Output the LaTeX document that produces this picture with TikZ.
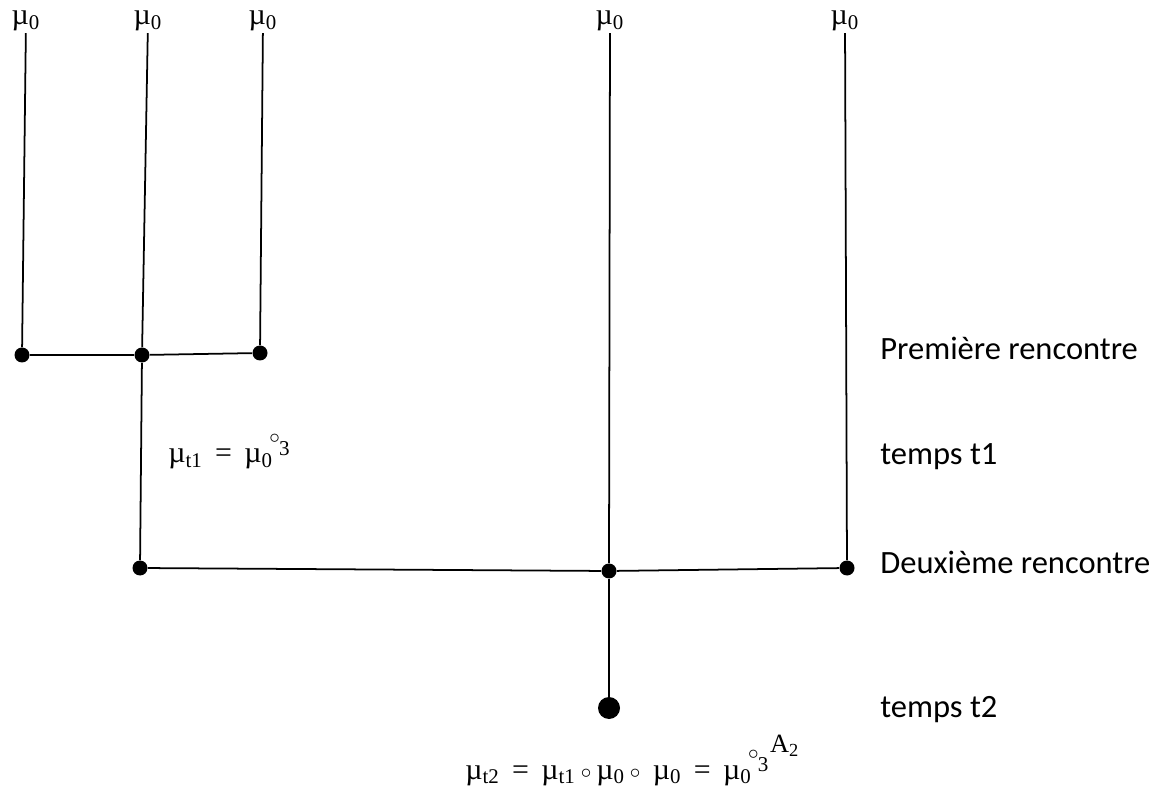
\documentclass[tikz,border=0pt]{standalone}
\usepackage{fontspec}
\usepackage{graphicx}
\setmainfont{Carlito}
\newfontfamily\tnr{Liberation Serif}
\newcommand{\muz}{µ\textsubscript{0}}
\newcommand{\mut}[1]{µ\textsubscript{t#1}}
\newcommand{\smallo}{\raisebox{0.5pt}{$\scriptstyle\circ$}}
\newcommand{\powo}{\kern-2pt\raisebox{11pt}{$\scriptstyle\circ$}\kern-0.5pt\raisebox{4.5pt}{\fontsize{12}{12}\selectfont 3}}

\begin{document}
\begin{tikzpicture}[
  dot/.style={circle, fill=black, minimum size=0.3cm, inner sep=0},
  bigdot/.style={circle, fill=black, minimum size=0.44cm, inner sep=0},
  lbl/.style={font=\tnr\fontsize{17}{19}\selectfont, inner sep=1pt},
  tag/.style={font=\fontsize{18.5}{21}\selectfont, anchor=base west, inner sep=0},
  edge/.style={line width=1pt}
]
\useasboundingbox (0,0) rectangle (23.12,-15.8);

%% ── Top labels ───────────────────────────────────────────────────────────────
\node[lbl] (m1) at (0.52,-0.42)  {\muz};
\node[lbl] (m2) at (2.96,-0.42)  {\muz};
\node[lbl] (m3) at (5.26,-0.42)  {\muz};
\node[lbl] (m4) at (12.2,-0.42)  {\muz};
\node[lbl] (m5) at (16.9,-0.42)  {\muz};

%% ── Meeting points ───────────────────────────────────────────────────────────
\node[dot]    (a1) at (0.44,-7.1)    {};
\node[dot]    (a2) at (2.84,-7.1)    {};
\node[dot]    (a3) at (5.2,-7.06)    {};
\node[dot]    (b1) at (2.8,-11.36)   {};
\node[dot]    (b2) at (12.18,-11.42) {};
\node[dot]    (b3) at (16.94,-11.36) {};
\node[bigdot] (c)  at (12.18,-14.16) {};

%% ── Formulas ─────────────────────────────────────────────────────────────────
\node[lbl, anchor=base west, inner sep=0] (f1) at (3.36,-9.26)
  {\mut{1} \,=\, \muz\powo};
\node[lbl, anchor=base west, inner sep=0] (f2) at (9.3,-15.58)
  {\mut{2} \,=\, \mut{1}\,\smallo\,\muz\,\smallo\ \,\muz{} \,=\, \muz\powo\kern1pt\raisebox{15pt}{\fontsize{15}{15}\selectfont A\textsubscript{2}}};

%% ── Right-hand tags ──────────────────────────────────────────────────────────
\node[tag] (p1) at (17.6,-7.2)   {Première rencontre};
\node[tag] (p2) at (17.6,-9.3)   {temps t1};
\node[tag] (p3) at (17.6,-11.46) {Deuxième rencontre};
\node[tag] (p4) at (17.6,-14.34) {temps t2};

%% ── Branches ─────────────────────────────────────────────────────────────────
\draw[edge] (m1) -- (a1);
\draw[edge] (m2) -- (a2);
\draw[edge] (m3) -- (a3);
\draw[edge] (a1) -- (a2) -- (a3);
\draw[edge] (a2) -- (b1);
\draw[edge] (m4) -- (b2);
\draw[edge] (m5) -- (b3);
\draw[edge] (b1) -- (b2) -- (b3);
\draw[edge] (b2) -- (c);

\end{tikzpicture}
\end{document}
